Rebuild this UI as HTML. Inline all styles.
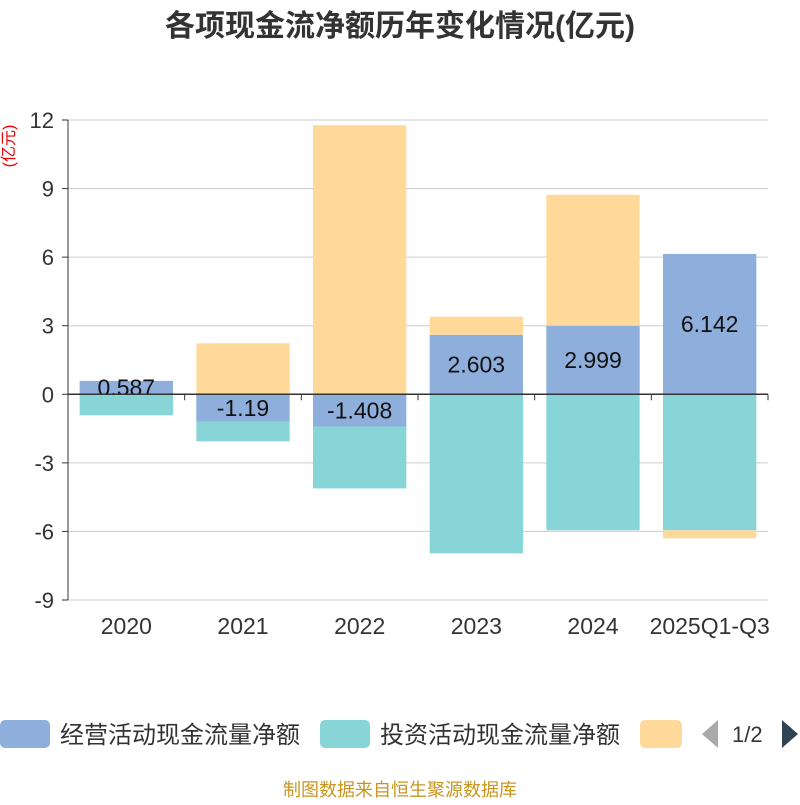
<!DOCTYPE html>
<html><head><meta charset="utf-8"><style>
body{margin:0;background:#fff;}
svg text{font-family:"Liberation Sans","Noto Sans CJK SC",sans-serif;}
</style></head><body>
<svg id="c" width="800" height="800">
<text x="400" y="36" text-anchor="middle" font-size="30" font-weight="bold" fill="#333">各项现金流净额历年变化情况(亿元)</text>
<text transform="translate(14,146) rotate(-90)" text-anchor="middle" font-size="16" fill="#e00">(亿元)</text>
<g id="grid"></g><g id="bars"></g><g id="axes"></g>
<g>
<rect x="0" y="720" width="50" height="28" rx="5" fill="#8eaedb"/>
<text x="60" y="743" font-size="24" fill="#333">经营活动现金流量净额</text>
<rect x="320" y="720" width="50" height="28" rx="5" fill="#88d5d8"/>
<text x="380" y="743" font-size="24" fill="#333">投资活动现金流量净额</text>
<rect x="640" y="720" width="42" height="28" rx="5" fill="#ffd99a"/>
<polygon points="718,720 718,748 702,734" fill="#aaa"/>
<text x="732" y="742" font-size="22" fill="#333">1/2</text>
<polygon points="782,720 782,748 798,734" fill="#2f4554"/>
</g>
<text x="400" y="796" text-anchor="middle" font-size="18" fill="#c8961e">制图数据来自恒生聚源数据库</text>
</svg>
<script>
const categories=["2020","2021","2022","2023","2024","2025Q1-Q3"];
const operating=[0.587,-1.19,-1.408,2.603,2.999,6.142];
const investing=[-0.92,-0.87,-2.71,-6.96,-5.95,-5.95];
const financing=[0,2.23,11.77,0.79,5.73,-0.35];
const yTicks=[12,9,6,3,0,-3,-6,-9];
const NS="http://www.w3.org/2000/svg";
const L=68,R=768,T=120,B=600,yMax=12,yMin=-9;
const y=v=>T+(yMax-v)/(yMax-yMin)*(B-T);
const bw=(R-L)/categories.length;
const x=i=>L+bw*i;
function mk(tag,attrs,parent){const e=document.createElementNS(NS,tag);for(const k in attrs)e.setAttribute(k,attrs[k]);document.getElementById(parent).appendChild(e);return e;}
yTicks.forEach(t=>{
  if(t!==0){const g=mk('line',{x1:L,x2:R,y1:y(t),y2:y(t),stroke:'#ccc'},'grid');
  
  }
  const tk=mk('line',{x1:L-6,x2:L,y1:y(t),y2:y(t),stroke:'#333'},'axes');
  
  
  const lb=mk('text',{x:L-14,y:y(t)+8,'text-anchor':'end','font-size':22,fill:'#333'},'axes');
  lb.textContent=t;
  
  
});
const ya=mk('line',{x1:L,x2:L,y1:T,y2:B,stroke:'#333'},'axes');


const xa=mk('line',{x1:L,x2:R,y1:y(0),y2:y(0),stroke:'#333','stroke-width':1.5},'axes');


for(let i=0;i<=categories.length;i++){
  const tk=mk('line',{x1:x(i),x2:x(i),y1:y(0),y2:y(0)+6,stroke:'#333'},'axes');
  
  
}
const series=[[operating,'#8eaedb','operating'],[investing,'#88d5d8','investing'],[financing,'#ffd99a','financing']];
categories.forEach((c,i)=>{
  let pos=0,neg=0;const bx=x(i)+bw*0.1,w=bw*0.8;
  series.forEach(([arr,col,nm])=>{
    const v=arr[i];let a,b;
    if(v>=0){a=pos;b=pos+v;pos=b;}else{a=neg;b=neg+v;neg=b;}
    const r=mk('rect',{x:bx,y:Math.min(y(a),y(b)),width:w,height:Math.abs(y(a)-y(b)),fill:col},'bars');
    
    
    if(nm==='operating'){
      const t=mk('text',{x:bx+w/2,y:(y(a)+y(b))/2+8,'text-anchor':'middle','font-size':23,fill:'#111'},'bars');
      t.textContent=v;
      
      
    }
  });
  const lb=mk('text',{x:x(i)+bw/2,y:634,'text-anchor':'middle','font-size':23,fill:'#333'},'axes');
  lb.textContent=c;
  
  
});
</script>
</body></html>
